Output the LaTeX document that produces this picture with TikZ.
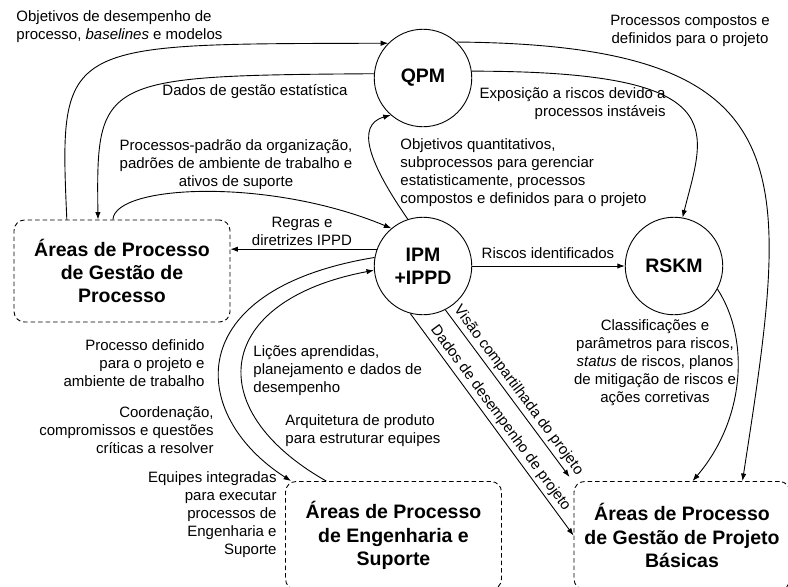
\documentclass[tikz,border=0pt]{standalone}
\usepackage{fontspec}
\setmainfont{Liberation Sans}
\usetikzlibrary{arrows.meta}

\begin{document}
\begin{tikzpicture} [
        x=0.6667pt, y=-0.6667pt,
        line width=0.6pt,
        >={Latex[length=5pt,width=3.6pt]},
        pa/.style={draw, circle, minimum size=65pt, inner sep=0pt, font=\fontsize{13}{15.6}\selectfont\bfseries},
        grp/.style={draw, dash pattern=on 3pt off 2pt, rounded corners=7pt, minimum width=144pt, minimum height=68pt, font=\fontsize{13}{15.6}\selectfont\bfseries},
        lbl/.style={inner sep=0pt, font=\fontsize{10}{12}\selectfont},
        align=center ]
    \useasboundingbox (0,0) rectangle (788,586);
    \node[pa] (qpm) at (423,78) {QPM};
    \node[pa] (ipm) at (423,266) {IPM\\+IPPD};
    \node[pa] (rskm) at (674,266) {RSKM};
    \node[grp] (gp) at (122,271) {Áreas de Processo\\de Gestão de\\Processo};
    \node[grp, minimum height=72pt] (eng) at (393.5,535.5) {Áreas de Processo\\de Engenharia e\\Suporte};
    \node[grp, minimum height=72pt] (gpb) at (682,535.5) {Áreas de Processo\\de Gestão de Projeto\\Básicas};
    \node[lbl, anchor=west, align=left] (lobj) at (16,27) {Objetivos de desempenho de\\processo, \emph{baselines} e modelos};
    \node[lbl] (ldados) at (255,92) {Dados de gestão estatística};
    \node[lbl] (lpadrao) at (236,165) {Processos-padrão da organização,\\padrões de ambiente de trabalho e\\ativos de suporte};
    \node[lbl] (lregras) at (302,231) {Regras e\\diretrizes IPPD};
    \node[lbl, anchor=west, align=left] (lquant) at (400,173) {Objetivos quantitativos,\\subprocessos para gerenciar\\estatisticamente, processos\\compostos e definidos para o projeto};
    \node[lbl, anchor=east, align=right] (lexpo) at (666,104) {Exposição a riscos devido a\\processos instáveis};
    \node[lbl] (lcomp) at (690,31) {Processos compostos e\\definidos para o projeto};
    \node[lbl] (lriscos) at (548,253) {Riscos identificados};
    \node[lbl] (lclass) at (655,363) {Classificações e\\parâmetros para riscos,\\\emph{status} de riscos, planos\\de mitigação de riscos e\\ações corretivas};
    \node[lbl, anchor=east, align=right] (ldef) at (205,363) {Processo definido\\para o projeto e\\ambiente de trabalho};
    \node[lbl, anchor=east, align=right] (lcoord) at (214,430) {Coordenação,\\compromissos e questões\\críticas a resolver};
    \node[lbl, anchor=east, align=right] (lequip) at (277,515) {Equipes integradas\\para executar\\processos de\\Engenharia e\\Suporte};
    \node[lbl, anchor=west, align=left] (llicoes) at (253,371) {Lições aprendidas,\\planejamento e dados de\\desempenho};
    \node[lbl, anchor=west, align=left] (larq) at (285,431) {Arquitetura de produto\\para estruturar equipes};
    \draw[->] (gp.137) .. controls +(-8,-180) and +(-328,1) .. (qpm.135);
    \draw[->] (qpm.175) .. controls +(-274,2) and +(-2,-142) .. (gp.115);
    \draw[->] (gp.100) .. controls +(2,-35) and +(-122,-51) .. (ipm.130);
    \draw[->] (ipm.160) -- (ipm.160 -| gp.east);
    \draw[->] (ipm.108) .. controls +(-38,-55) and +(-36,10) .. (qpm.229);
    \draw[->] (qpm.8) .. controls +(265,0) and +(22,-88) .. (rskm.80);
    \draw[->] (qpm.47) .. controls +(354,3) and +(48,-311) .. (gpb.42);
    \draw[->] (ipm) -- (rskm);
    \draw[->] (rskm.-28) .. controls +(33,51) and +(52,-61) .. (gpb.79);
    \draw[->] (ipm.297) -- ([shift={(-4,-4)}]gpb.north west) node[lbl, sloped, above=2pt, pos=0.52] (lvisao) {Visão compartilhada do projeto};
    \draw[->] (ipm.255) -- (gpb.west) node[lbl, sloped, above=2pt, pos=0.5] (ldesemp) {Dados de desempenho de projeto};
    \draw[->] (ipm.170) .. controls +(-195,32) and +(-103,-66) .. (eng.152);
    \draw[->] (eng.141) .. controls +(-127,-72) and +(-159,30) .. (ipm.185);
\end{tikzpicture}
\end{document}
